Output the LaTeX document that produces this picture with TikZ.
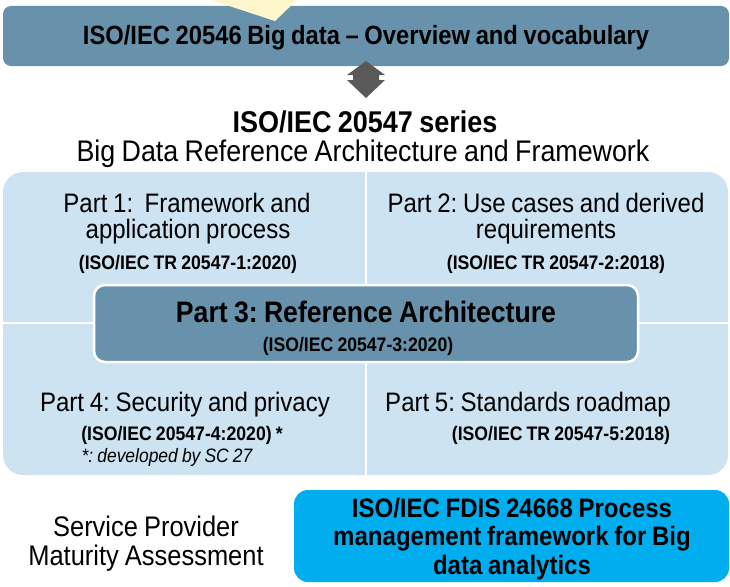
\documentclass[tikz,border=0pt]{standalone}
\usepackage{fontspec}
\setmainfont{Liberation Sans}[FakeStretch=0.9,WordSpace=0.85]
\usetikzlibrary{calc}
\definecolor{steel}{RGB}{104,146,171}
\definecolor{lightb}{RGB}{205,227,242}
\definecolor{cyanb}{RGB}{0,174,239}
\definecolor{paley}{RGB}{255,246,204}
\definecolor{arrowg}{RGB}{89,89,89}
\frenchspacing
\tikzset{
  txt/.style={inner sep=0pt, align=center, text=black},
  big/.style={txt, font=\fontsize{26.7}{28}\selectfont},
  bigb/.style={txt, font=\fontsize{29.6}{29}\selectfont\bfseries},
  small/.style={txt, font=\fontsize{19.6}{20}\selectfont\bfseries},
  divider/.style={white, line width=2.2pt},
}
\begin{document}
\frenchspacing
\begin{tikzpicture}[x=1pt,y=-1pt]
\useasboundingbox (0,0) rectangle (730,586);
% top box
\fill[steel, rounded corners=8] (3,6) rectangle (729,66);
\fill[paley] (205,-2) -- (299,-2) -- (275,21) -- cycle;
\node[txt, font=\fontsize{26.4}{27}\selectfont\bfseries] (top) at (366,38) {ISO/IEC 20546 Big data -- Overview and vocabulary};
% double arrow
\fill[arrowg] (366,61) -- (385,75) -- (379,75) -- (379,80) -- (385,80) -- (366,98) -- (347,80) -- (353,80) -- (353,75) -- (347,75) -- cycle;
% series title
\node[txt, font=\fontsize{30}{30}\selectfont\bfseries] (series) at (365,122) {ISO/IEC 20547 series};
\node[txt, font=\fontsize{29.8}{30}\selectfont] (sub) at (363,154) {Big Data Reference Architecture and Framework};
% big light box
\fill[lightb, rounded corners=20] (3,172) rectangle (728,475);
\draw[divider] (366,172) -- (366,475);
\draw[divider] (3,323) -- (728,323);
% part 3 box
\filldraw[fill=steel, draw=white, line width=2.5pt, rounded corners=11] (94,285) rectangle (638,362);
% part 1
\node[big] (p1a) at (187,203) {Part 1:~ Framework and};
\node[big] (p1b) at (188,232) {application process};
\node[small] (p1c) at (188,264) {(ISO/IEC TR 20547-1:2020)};
% part 2
\node[big] (p2a) at (546,203) {Part 2: Use cases and derived};
\node[big] (p2b) at (546,232) {requirements};
\node[small] (p2c) at (556,264) {(ISO/IEC TR 20547-2:2018)};
% part 3
\node[bigb] (p3a) at (366,312) {Part 3: Reference Architecture};
\node[small] (p3b) at (358,346) {(ISO/IEC 20547-3:2020)};
% part 4
\node[big] (p4a) at (185,405) {Part 4: Security and privacy};
\node[small] (p4b) at (182,435) {(ISO/IEC 20547-4:2020) *};
\node[txt, font=\fontsize{19.4}{20}\selectfont\itshape] (p4c) at (167,457) {*: developed by SC 27};
% part 5
\node[big] (p5a) at (528,405) {Part 5: Standards roadmap};
\node[small] (p5b) at (561,435) {(ISO/IEC TR 20547-5:2018)};
% bottom
\node[txt, font=\fontsize{28.3}{29}\selectfont] (spm) at (146,544) {Service Provider\\Maturity Assessment};
\fill[cyanb, rounded corners=14] (294,490) rectangle (729,582);
\node[txt, font=\fontsize{26.7}{28.5}\selectfont\bfseries] (fdis) at (512,539) {ISO/IEC FDIS 24668 Process\\management framework for Big\\data analytics};
\end{tikzpicture}
\end{document}
